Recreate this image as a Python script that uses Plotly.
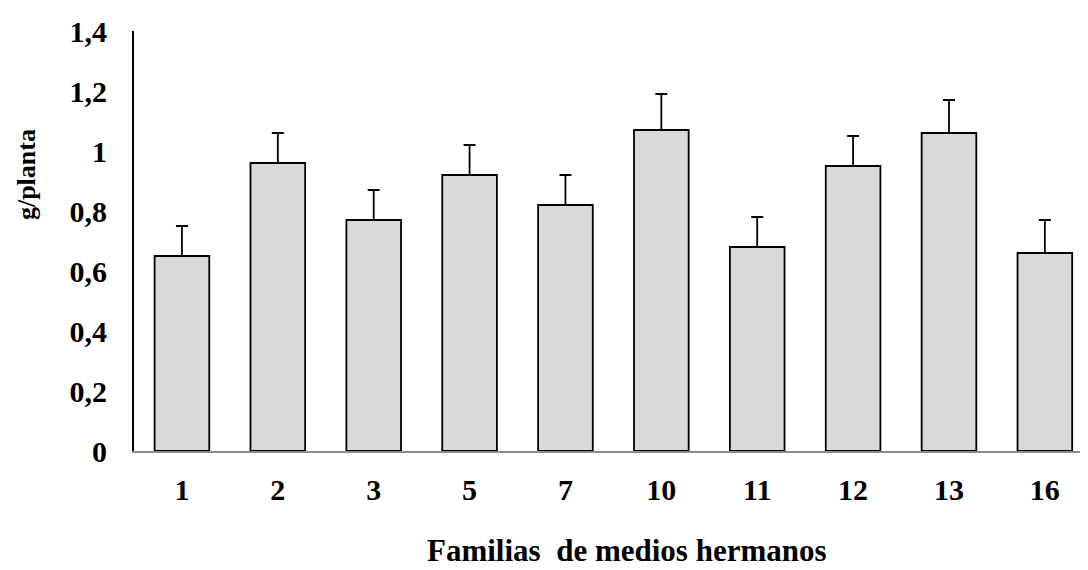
import plotly.graph_objects as go

categories = ["1", "2", "3", "5", "7", "10", "11", "12", "13", "16"]
means = [0.65, 0.96, 0.77, 0.92, 0.82, 1.07, 0.68, 0.95, 1.06, 0.66]
errors = [0.10, 0.10, 0.10, 0.10, 0.10, 0.12, 0.10, 0.10, 0.11, 0.11]
y_ticks = [0, 0.2, 0.4, 0.6, 0.8, 1.0, 1.2, 1.4]
x_title = "Familias  de medios hermanos"
y_title = "g/planta"

x_pos = list(range(len(categories)))
FONT = "Liberation Serif, Times New Roman, serif"

fig = go.Figure()
fig.add_trace(go.Bar(
    x=x_pos,
    y=means,
    width=0.57,
    marker=dict(color="#d9d9d9", line=dict(color="black", width=1.8)),
    error_y=dict(type="data", symmetric=False, array=errors,
                 arrayminus=[0] * len(errors),
                 color="black", thickness=1.8, width=6),
    showlegend=False,
))

# page body adds an 8px offset, so the figure is 8px smaller than the window
fig.update_layout(
    width=1080, height=562,
    margin=dict(l=126, r=0, t=23, b=119),
    plot_bgcolor="white", paper_bgcolor="white",
    separators=",.",
    font=dict(family=FONT, size=30, color="black", weight="bold"),
)
fig.update_xaxes(
    range=[-0.5, 9.45],
    tickmode="array", tickvals=x_pos, ticktext=categories,
    showline=True, linecolor="#8c8c8c", linewidth=2,
    showgrid=False, zeroline=False, ticks="",
    ticklabelstandoff=11,
    tickfont=dict(family=FONT, size=30, weight="bold"),
)
fig.update_yaxes(
    range=[0, 1.4],
    tickmode="array", tickvals=y_ticks,
    showline=True, linecolor="black", linewidth=2,
    showgrid=False, zeroline=False, ticks="",
    ticklabelstandoff=19,
    tickfont=dict(family=FONT, size=30, weight="bold"),
)

fig.add_annotation(
    text=x_title, xref="paper", yref="paper", x=0.517, y=-0.281,
    xanchor="center", yanchor="bottom", showarrow=False, borderpad=0,
    font=dict(family=FONT, size=31, weight="bold", color="black"),
)
fig.add_annotation(
    text=y_title, xref="paper", yref="paper", x=-0.1132, y=0.657,
    xanchor="center", yanchor="middle", textangle=-90, showarrow=False,
    font=dict(family=FONT, size=26, weight="bold", color="black"),
)

fig.write_html("out.html")
